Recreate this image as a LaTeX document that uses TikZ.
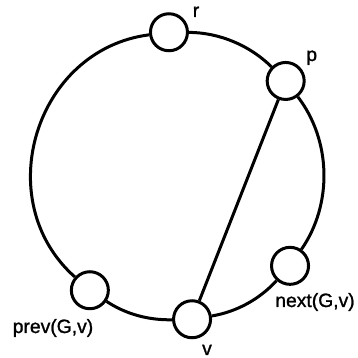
\documentclass[tikz,border=0pt]{standalone}
\usepackage{fontspec}
\setmainfont{Liberation Sans}
\newfontfamily\lblfont[FakeBold=1.2]{Liberation Sans}
\usetikzlibrary{calc}
\begin{document}
\begin{tikzpicture}[x=1pt,y=1pt,
  vtx/.style={circle,draw,fill=white,line width=3pt,minimum size=37pt,inner sep=0pt},
  ring/.style={line width=3pt},
  lbl/.style={anchor=base,inner sep=0pt,font=\lblfont\fontsize{19.3}{20}\selectfont}]
\useasboundingbox (0,0) rectangle (358,358);
\coordinate (c) at (177.5,182);
\node[vtx] (r) at ($(c)+(93.4:144)$) {};
\node[vtx] (p) at ($(c)+(41.3:144)$) {};
\node[vtx] (nx) at ($(c)+(-38.6:144)$) {};
\node[vtx] (v) at ($(c)+(-84.2:144)$) {};
\node[vtx] (pv) at ($(c)+(232.5:144)$) {};
\draw[ring] (v) to[out=9.8,in=-132.6,looseness=0.87] (nx);
\draw[ring] (nx) to[out=55.4,in=-52.7,looseness=0.92] (p);
\draw[ring] (p) to[out=135.3,in=-0.6,looseness=0.87] (r);
\draw[ring] (r) to[out=187.4,in=138.5,looseness=1.16] (pv);
\draw[ring] (pv) to[out=326.5,in=181.8,looseness=0.87] (v);
\draw[ring] (p) -- (v);
\node[lbl] (lr) at (196,341) {r};
\node[lbl] (lp) at (311.7,297) {p};
\node[lbl] (lnx) at (315,51) {next(G,v)};
\node[lbl] (lpv) at (53,25) {prev(G,v)};
\node[lbl] (lv) at (207,3) {v};
\end{tikzpicture}
\end{document}
